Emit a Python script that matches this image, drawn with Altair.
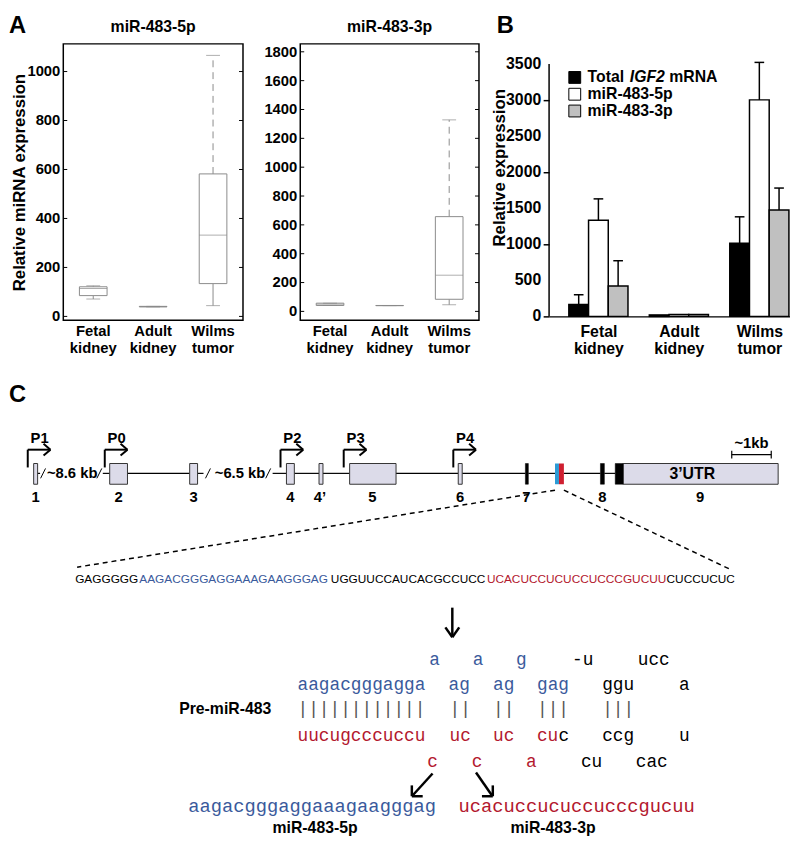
import json
import altair as alt
import pandas as pd

FONT = "Liberation Sans"
MONO = "Liberation Mono"
BLUE = "#3a5a9c"
RED = "#b3182e"
BOXGRAY = "#8a8a8a"

# ---------------- Panel A data (box plots) ----------------
tissues = ["Fetal kidney", "Adult kidney", "Wilms tumor"]

a5_low = [71, 39, 44]
a5_q1 = [85, 39, 134]
a5_med = [114, 40, 332]
a5_q3 = [121, 41, 582]
a5_high = [125, 41, 1066]
a5_ticks = [0, 200, 400, 600, 800, 1000]

a3_low = [41, 40, 46]
a3_q1 = [41, 40, 84]
a3_med = [50, 40, 251]
a3_q3 = [57, 41, 657]
a3_high = [57, 41, 1328]
a3_ticks = [0, 200, 400, 600, 800, 1000, 1200, 1400, 1600, 1800]

# ---------------- Panel B data (bars) ----------------
series = ["Total IGF2 mRNA", "miR-483-5p", "miR-483-3p"]
series_fill = ["#000000", "#ffffff", "#c0c0c0"]
b_values = [
    [165, 20, 1015],
    [1335, 25, 3003],
    [421, 25, 1475],
]
b_errors = [
    [135, 0, 366],
    [295, 0, 520],
    [351, 0, 305],
]
b_ticks = [0, 500, 1000, 1500, 2000, 2500, 3000, 3500]

# ---------------- Panel C data (gene diagram, sequences) ----------------
intron_x1 = [37, 103, 128, 199, 275, 297, 326, 400, 467, 534, 570, 611]
intron_x2 = [39.5, 110, 191, 205, 289, 322, 353, 463, 531, 561, 607, 622]
slash_x = [40, 97, 207, 268]
gap_labels = ["~8.6 kb", "~6.5 kb"]
gap_label_x = [72, 242]
exon_x1 = [33, 110, 191, 289, 322, 353, 463, 630]
exon_x2 = [37, 128, 199, 297, 326, 400, 467, 787]
coding_x1 = [531, 607, 622]
coding_x2 = [534, 611, 630]
mir_x1 = [561, 565]
mir_x2 = [565, 570]
mir_colors = ["#2b9bd6", "#cf1f30"]
exon_labels = ["1", "2", "3", "4", "4\u2019", "5", "6", "7", "8", "9"]
exon_label_x = [35, 119, 195, 293, 323, 376, 465, 532, 609, 708]
promoter_names = ["P1", "P0", "P2", "P3", "P4"]
promoter_x = [27, 105, 283, 347, 458]

seq_parts = ["GAGGGGG", "AAGACGGGAGGAAAGAAGGGAG", "UGGUUCCAUCACGCCUCC",
             "UCACUCCUCUCCUCCCGUCUU", "CUCCUCUC"]
seq_colors = ["black", BLUE, "black", RED, "black"]
seq_x = [75, 140, 334, 492, 674]

hp_rows = [
    [("a", 439, BLUE), ("a", 483, BLUE), ("g", 527, BLUE), ("-u", 589, "black"), ("ucc", 661, "black")],
    [("aagacgggagga", 365, BLUE), ("ag", 464, BLUE), ("ag", 509, BLUE), ("gag", 559, BLUE),
     ("ggu", 625, "black"), ("a", 692, "black")],
    [("||||||||||||", 365, "#555555"), ("||", 465, "#555555"), ("||", 509, "#555555"),
     ("|||", 559, "#555555"), ("|||", 625, "#555555")],
    [("uucugcccuccu", 365, RED), ("uc", 465, RED), ("uc", 509, RED), ("cu", 553.5, RED),
     ("c", 570, "black"), ("ccg", 625, "black"), ("u", 692, "black")],
    [("c", 437, RED), ("c", 482, RED), ("a", 537, RED), ("cu", 598, "black"), ("cac", 659, "black")],
]
hp_row_y = [665, 690, 715, 742, 768]

mature = ["aagacgggaggaaagaagggag", "ucacuccucuccucccgucuu"]
mature_colors = [BLUE, RED]
mature_x = [315, 583]
mature_names = ["miR-483-5p", "miR-483-3p"]
mature_name_x = [318, 559]


def one(**kw):
    return pd.DataFrame({k: [v] for k, v in kw.items()})


# ---------------- Panel A ----------------
def box_panel(title, low, q1, med, q3, high, ydom, yticks, ytitle, letter, width, height):
    df = pd.DataFrame({"g": tissues, "lo": low, "q1": q1, "med": med, "q3": q3, "hi": high})
    xenc = alt.X("g:N", sort=tissues, scale=alt.Scale(paddingInner=0, paddingOuter=0),
                 axis=alt.Axis(title=None, labelExpr="split(datum.label, ' ')", labelAngle=0,
                               ticks=False, domain=False, labelFont=FONT, labelFontWeight="bold",
                               labelFontSize=15, labelPadding=3, labelLineHeight=18,
                               labelColor="black"))
    yscale = alt.Scale(domain=ydom, nice=False, zero=False)
    axis_kw = dict(values=yticks, labels=False, grid=False, ticks=False, domain=False)
    if ytitle:
        axis_kw.update(title=ytitle, titleFont=FONT, titleFontWeight="bold", titleFontSize=17,
                       titlePadding=0, minExtent=35, maxExtent=35, titleColor="black")
    else:
        axis_kw.update(title=None)
    base = alt.Chart(df)
    lower = base.mark_rule(color=BOXGRAY, strokeWidth=1).encode(
        x=xenc, y=alt.Y("lo:Q", scale=yscale, axis=alt.Axis(**axis_kw)), y2="q1:Q")
    upper = base.mark_rule(color=BOXGRAY, strokeWidth=1, strokeDash=[7, 5]).encode(
        x=xenc, y="q3:Q", y2="hi:Q")
    box = base.mark_bar(size=28, fill="white", stroke=BOXGRAY, strokeWidth=1).encode(
        x=xenc, y="q1:Q", y2="q3:Q")
    median = base.mark_tick(size=28, thickness=1, color=BOXGRAY).encode(x=xenc, y="med:Q")
    cap_lo = base.mark_tick(size=14, thickness=1, color=BOXGRAY).encode(x=xenc, y="lo:Q")
    cap_hi = base.mark_tick(size=14, thickness=1, color=BOXGRAY).encode(x=xenc, y="hi:Q")

    tdf = pd.DataFrame({"v": yticks})
    tick_labels = alt.Chart(tdf).mark_text(font=FONT, fontWeight="bold", fontSize=15,
                                           align="right", baseline="middle", color="black").encode(
        y=alt.Y("v:Q"), x=alt.value(-3), text=alt.Text("v:Q", format="d"))
    inner_l = alt.Chart(tdf).mark_rule(color="black", strokeWidth=1).encode(
        y=alt.Y("v:Q"), x=alt.value(0), x2=alt.value(4))
    inner_r = alt.Chart(tdf).mark_rule(color="black", strokeWidth=1).encode(
        y=alt.Y("v:Q"), x=alt.value(width - 4), x2=alt.value(width))

    ttl = alt.Chart(one(t=title)).mark_text(font=FONT, fontWeight="bold", fontSize=16,
                                            baseline="middle", color="black").encode(
        text="t:N", x=alt.value(width / 2), y=alt.value(-17))
    layers = [lower, upper, box, median, cap_lo, cap_hi, inner_l, inner_r, tick_labels, ttl]
    if letter:
        lab = alt.Chart(one(t=letter)).mark_text(font=FONT, fontWeight="bold", fontSize=24,
                                                 align="left", baseline="top", color="black").encode(
            text="t:N", x=alt.value(-55), y=alt.value(-30))
        layers.append(lab)
    return alt.layer(*layers).properties(
        width=width, height=height, view=alt.ViewBackground(stroke="black", strokeWidth=1.5))


A1 = box_panel("miR-483-5p", a5_low, a5_q1, a5_med, a5_q3, a5_high, [-16, 1113], a5_ticks,
               "Relative miRNA expression", "A", 182, 280)
A2 = box_panel("miR-483-3p", a3_low, a3_q1, a3_med, a3_q3, a3_high, [-62, 1855], a3_ticks,
               None, None, 181, 280)

# ---------------- Panel B ----------------
rows = []
for si, s in enumerate(series):
    for gi, g in enumerate(tissues):
        rows.append(dict(g=g, gi=gi, s=s, si=si, v=b_values[si][gi], e=b_errors[si][gi]))
bdf = pd.DataFrame(rows)

BW = 244
BH = 276
bx_scale = alt.Scale(domain=[-0.613, 2.381], nice=False, zero=False)
by_scale = alt.Scale(domain=[0, 3780], nice=False, zero=False)
b_label_expr = "split(" + json.dumps(tissues) + "[datum.value], ' ')"

bbase = alt.Chart(bdf).transform_calculate(
    x1="datum.gi + (datum.si - 1.5) * 0.245",
    x2="datum.gi + (datum.si - 0.5) * 0.245",
    xc="datum.gi + (datum.si - 1) * 0.245",
    top="datum.v + datum.e",
    c1="datum.gi + (datum.si - 1) * 0.245 - 0.06",
    c2="datum.gi + (datum.si - 1) * 0.245 + 0.06",
)
bars = bbase.mark_rect(stroke="black", strokeWidth=1.5).encode(
    x=alt.X("x1:Q", scale=bx_scale,
            axis=alt.Axis(values=[0, 1, 2], labelExpr=b_label_expr, grid=False, ticks=False,
                          domain=True, domainColor="black", domainWidth=1.5, title=None,
                          labelOverlap=False, labelFont=FONT, labelFontWeight="bold",
                          labelFontSize=16, labelPadding=7, labelLineHeight=18,
                          labelColor="black")),
    x2="x2:Q",
    y=alt.Y("v:Q", scale=by_scale,
            axis=alt.Axis(values=b_ticks, labels=False, grid=False,
                          domain=False, ticks=True, tickSize=6, tickWidth=1.5, tickColor="black",
                          title="Relative expression", titleFont=FONT, titleFontWeight="bold",
                          titleFontSize=17, titlePadding=5, minExtent=36, maxExtent=36,
                          titleY=125, titleColor="black")),
    y2=alt.Y2(datum=0),
    fill=alt.Fill("s:N", scale=alt.Scale(domain=series, range=series_fill), legend=None),
)
err = bbase.transform_filter("datum.e > 0").mark_rule(color="black", strokeWidth=1.5).encode(
    x="xc:Q", y="v:Q", y2="top:Q")
caps = bbase.transform_filter("datum.e > 0").mark_rule(color="black", strokeWidth=1.5).encode(
    x="c1:Q", x2="c2:Q", y="top:Q")
yline = alt.Chart(one(a=0)).mark_rule(color="black", strokeWidth=1.5).encode(
    x=alt.value(0), y=alt.Y(datum=0), y2=alt.Y2(datum=3500))
b_tick_labels = alt.Chart(pd.DataFrame({"v": b_ticks})).mark_text(
    font=FONT, fontWeight="bold", fontSize=16, align="right", baseline="middle",
    color="black").encode(y=alt.Y("v:Q"), x=alt.value(-8), text=alt.Text("v:Q", format="d"))

b_layers = [bars, err, caps, yline, b_tick_labels]
for i, s in enumerate(series):
    cy = 34 + 17 * i
    b_layers.append(alt.Chart(one(a=0)).mark_rect(fill=series_fill[i], stroke="black",
                                                  strokeWidth=1).encode(
        x=alt.value(20), x2=alt.value(32), y=alt.value(cy - 6), y2=alt.value(cy + 6)))
    if s.startswith("Total"):
        parts = [("Total", 39, "normal"), ("IGF2", 81.7, "italic"), ("mRNA", 121.7, "normal")]
    else:
        parts = [(s, 39, "normal")]
    for txt, px, style in parts:
        b_layers.append(alt.Chart(one(t=txt)).mark_text(
            font=FONT, fontWeight="bold", fontStyle=style, fontSize=16, align="left",
            baseline="middle", color="black").encode(text="t:N", x=alt.value(px), y=alt.value(cy)))
b_layers.append(alt.Chart(one(t="B")).mark_text(font=FONT, fontWeight="bold", fontSize=24,
                                                align="left", baseline="top", color="black").encode(
    text="t:N", x=alt.value(-53), y=alt.value(-30)))
B = alt.layer(*b_layers).properties(width=BW, height=BH)

# ---------------- Panel C ----------------
X0, X1 = 63, 790
Y0, YB = 380, 841
xC = alt.Scale(domain=[X0, X1], nice=False, zero=False)
yC = alt.Scale(domain=[Y0, YB], nice=False, zero=False, reverse=True)


def seg_layer(df, **style):
    return alt.Chart(df).mark_rule(**style).encode(
        x=alt.X("x1:Q", scale=xC, axis=None), x2="x2:Q",
        y=alt.Y("y1:Q", scale=yC, axis=None), y2="y2:Q")


def rect_layer(df, **style):
    return alt.Chart(df).mark_rect(**style).encode(
        x=alt.X("x1:Q", scale=xC, axis=None), x2="x2:Q",
        y=alt.Y("y1:Q", scale=yC, axis=None), y2="y2:Q")


def text_layer(df, **style):
    enc = dict(x=alt.X("x:Q", scale=xC, axis=None), y=alt.Y("y:Q", scale=yC, axis=None),
               text="t:N")
    if "c" in df.columns:
        enc["color"] = alt.Color("c:N", scale=None)
    return alt.Chart(df).mark_text(**style).encode(**enc)


LINE_Y = 476
EX_TOP, EX_BOT = 466, 487

introns = pd.DataFrame({"x1": intron_x1, "x2": intron_x2, "y1": LINE_Y, "y2": LINE_Y})
slashes = pd.DataFrame({"x1": slash_x, "x2": [v + 5 for v in slash_x], "y1": LINE_Y + 5,
                        "y2": LINE_Y - 5})
gaps = pd.DataFrame({"t": gap_labels, "x": gap_label_x, "y": LINE_Y})
exons = pd.DataFrame({"x1": exon_x1, "x2": exon_x2, "y1": EX_TOP, "y2": EX_BOT})
coding = pd.DataFrame({"x1": coding_x1, "x2": coding_x2, "y1": EX_TOP, "y2": EX_BOT})
mirs = pd.DataFrame({"x1": mir_x1, "x2": mir_x2, "y1": EX_TOP, "y2": EX_BOT, "c": mir_colors})
exlab = pd.DataFrame({"t": exon_labels, "x": exon_label_x, "y": 500})

arrow_rows = []
for px in promoter_x:
    arrow_rows += [
        dict(x1=px, y1=470, x2=px, y2=452),
        dict(x1=px, y1=452, x2=px + 23, y2=452),
        dict(x1=px + 23, y1=452, x2=px + 16, y2=446),
        dict(x1=px + 23, y1=452, x2=px + 16, y2=458),
    ]
parrows = pd.DataFrame(arrow_rows)
plab = pd.DataFrame({"t": promoter_names, "x": [v + 12 for v in promoter_x], "y": 440})

scalebar = pd.DataFrame([dict(x1=740, y1=457, x2=780, y2=457), dict(x1=740, y1=453, x2=740, y2=461),
                         dict(x1=780, y1=453, x2=780, y2=461)])
dashed = pd.DataFrame([dict(x1=561, y1=493, x2=77, y2=571), dict(x1=570, y1=493, x2=738, y2=573)])
seqdf = pd.DataFrame({"t": seq_parts, "x": seq_x, "y": 583, "c": seq_colors})
down = pd.DataFrame([dict(x1=457, y1=612, x2=457, y2=641), dict(x1=457, y1=642, x2=450, y2=632),
                     dict(x1=457, y1=642, x2=464, y2=632)])
hp = pd.DataFrame([dict(t=t, x=x, y=hp_row_y[r], c=c) for r, row in enumerate(hp_rows)
                   for (t, x, c) in row])
diag = pd.DataFrame([
    dict(x1=437, y1=780, x2=417, y2=802), dict(x1=416, y1=803, x2=427, y2=803),
    dict(x1=416, y1=803, x2=416, y2=792),
    dict(x1=481, y1=779, x2=497, y2=802), dict(x1=498, y1=803, x2=487, y2=803),
    dict(x1=498, y1=803, x2=498, y2=792),
])
matdf = pd.DataFrame({"t": mature, "x": mature_x, "y": 813, "c": mature_colors})
matlab = pd.DataFrame({"t": mature_names, "x": mature_name_x, "y": 835})

bold15 = dict(font=FONT, fontWeight="bold", fontSize=15, color="black", baseline="middle")

C = alt.layer(
    seg_layer(introns, color="black", strokeWidth=1.2),
    seg_layer(slashes, color="black", strokeWidth=1),
    text_layer(gaps, **bold15),
    rect_layer(exons, fill="#dcdbe9", stroke="#333333", strokeWidth=1),
    rect_layer(coding, fill="black", stroke="black", strokeWidth=0.5),
    alt.Chart(mirs).mark_rect().encode(
        x=alt.X("x1:Q", scale=xC, axis=None), x2="x2:Q",
        y=alt.Y("y1:Q", scale=yC, axis=None), y2="y2:Q", fill=alt.Fill("c:N", scale=None)),
    text_layer(exlab, **bold15),
    seg_layer(parrows, color="black", strokeWidth=2),
    text_layer(plab, **bold15),
    text_layer(pd.DataFrame({"t": ["3\u2019UTR"], "x": [700], "y": [477]}), font=FONT,
               fontWeight="bold", fontSize=16, color="black", baseline="middle"),
    seg_layer(scalebar, color="black", strokeWidth=1.2),
    text_layer(pd.DataFrame({"t": ["~1kb"], "x": [760], "y": [445]}), **bold15),
    text_layer(pd.DataFrame({"t": ["C"], "x": [8], "y": [385]}), font=FONT, fontWeight="bold",
               fontSize=24, color="black", align="left", baseline="top"),
    seg_layer(dashed, color="black", strokeWidth=1.5, strokeDash=[5, 4]),
    text_layer(seqdf, font=FONT, fontSize=12, align="left", baseline="middle"),
    seg_layer(down, color="black", strokeWidth=2.5),
    text_layer(hp, font=MONO, fontSize=18, baseline="middle"),
    text_layer(pd.DataFrame({"t": ["Pre-miR-483"], "x": [227], "y": [715]}), font=FONT,
               fontWeight="bold", fontSize=16, color="black", baseline="middle"),
    seg_layer(diag, color="black", strokeWidth=2.5),
    text_layer(matdf, font=MONO, fontSize=19, baseline="middle"),
    text_layer(matlab, font=FONT, fontWeight="bold", fontSize=16, color="black", baseline="middle"),
).properties(width=X1 - X0, height=YB - Y0)

row1 = alt.hconcat(alt.hconcat(A1, A2, spacing=18), B, spacing=10)
chart = alt.vconcat(row1, C, spacing=22).properties(
    padding=0, background="white"
).configure_view(strokeWidth=0).configure_axis(labelColor="black", titleColor="black")

chart.save("out.html", embed_options={"renderer": "svg", "actions": False})
